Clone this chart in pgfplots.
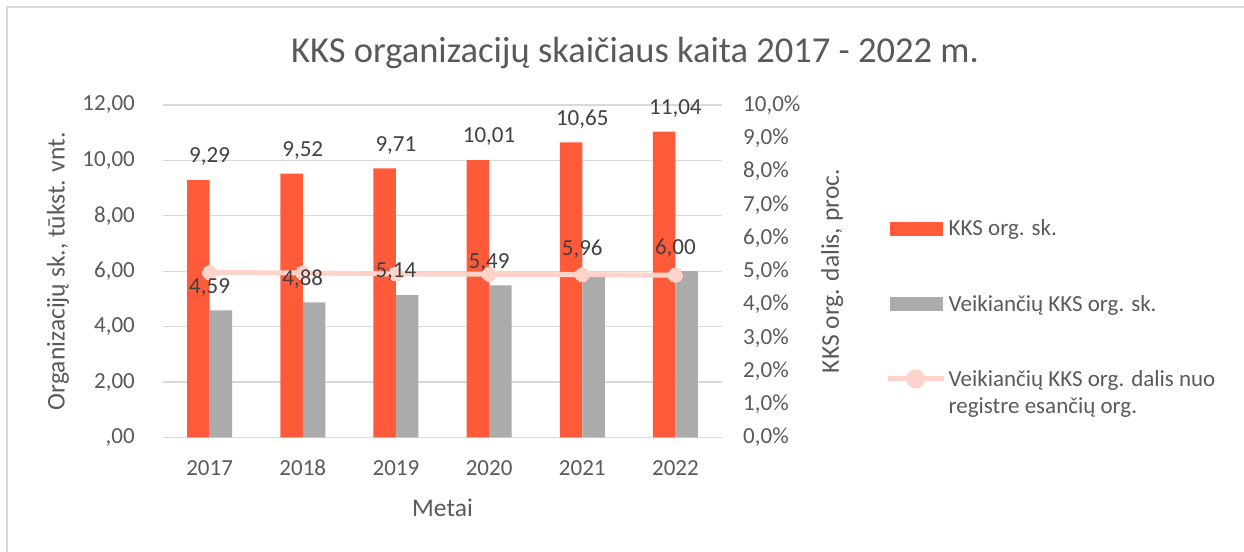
\documentclass[border=0pt]{standalone}
\usepackage{pgfplots}
\usepackage{pgfplotstable}
\pgfplotsset{compat=1.18}
\usepackage{fontspec}
\setmainfont{Carlito}
\definecolor{korg}{HTML}{FF5B3B}
\definecolor{kgray}{HTML}{ABABAB}
\definecolor{kline}{HTML}{FFD3CA}
\definecolor{ktext}{HTML}{595959}
\definecolor{klab}{HTML}{404040}
\definecolor{kgrid}{HTML}{D9D9D9}
\pgfkeys{/pgf/number format/assume math mode=true}

\pgfplotstableread{
x org veik
0 9.29 4.59
1 9.52 4.88
2 9.71 5.14
3 10.01 5.49
4 10.65 5.96
5 11.04 6.00
}\barsdata
\pgfplotstableread{
x share
0 4.96
1 4.95
2 4.92
3 4.91
4 4.90
5 4.88
}\linedata

\newcommand{\tickfont}{\fontsize{23bp}{27bp}\selectfont}
\newcommand{\labfont}{\fontsize{25.5bp}{30bp}\selectfont}

\pgfplotsset{
  kbase/.style={
    at={(163bp,114.5bp)}, anchor=south west,
    scale only axis, width=559bp, height=332.5bp,
    xmin=-0.5, xmax=5.5,
  },
}

\begin{document}
\begin{tikzpicture}
\useasboundingbox (0,0) rectangle (1244bp,552bp);
\draw[kgrid, line width=1.5bp] (7bp,0) -- (7bp,545bp) -- (1244bp,545bp);
\node[text=ktext, font=\fontsize{36.5bp}{42bp}\selectfont] at (635bp,499bp) {KKS organizacijų skaičiaus kaita 2017 - 2022 m.};

% bars
\begin{axis}[
  kbase, ymin=0, ymax=12,
  xtick={0,1,2,3,4,5}, xticklabels={2017,2018,2019,2020,2021,2022},
  ytick={0,2,4,6,8,10,12},
  yticklabels={{,00},{2,00},{4,00},{6,00},{8,00},{10,00},{12,00}},
  ymajorgrids, grid style={kgrid, line width=1.2bp},
  axis x line*=bottom, axis y line*=left,
  x axis line style={kgrid, line width=1.2bp},
  y axis line style={draw=none},
  major tick length=0pt,
  tick label style={text=ktext, font=\tickfont, inner sep=0pt},
  yticklabel style={anchor=east, xshift=-28bp},
  xticklabel style={anchor=base, yshift=-38bp},
  bar width=22.5bp,
  xlabel={Metai}, ylabel={Organizacijų sk., tūkst. vnt.},
  label style={text=ktext, font=\labfont},
  xlabel style={at={(axis description cs:0.5,-0.212)}, anchor=center},
  ylabel style={at={(axis description cs:-0.188,0.5)}, anchor=center},
]
\addplot[ybar, fill=korg, draw=none, bar shift=-11.25bp] table[x=x,y=org]{\barsdata};
\addplot[ybar, fill=kgray, draw=none, bar shift=11.25bp] table[x=x,y=veik]{\barsdata};
\end{axis}

% line on the secondary axis
\begin{axis}[
  kbase, ymin=0, ymax=10,
  axis x line=none, axis y line*=right,
  y axis line style={draw=none},
  major tick length=0pt,
  ytick={0,1,2,3,4,5,6,7,8,9,10},
  yticklabels={{0,0\%},{1,0\%},{2,0\%},{3,0\%},{4,0\%},{5,0\%},{6,0\%},{7,0\%},{8,0\%},{9,0\%},{10,0\%}},
  tick label style={text=ktext, font=\tickfont, inner sep=0pt},
  yticklabel style={anchor=west, xshift=21bp},
  ylabel={KKS org. dalis, proc.},
  label style={text=ktext, font=\labfont},
  ylabel style={at={(axis description cs:1.197,0.5)}, anchor=center, rotate=0},
  legend style={at={(axis description cs:1.2916,0.663)}, anchor=north west,
    draw=none, fill=none, font=\tickfont, text=ktext, row sep=53bp,
    cells={anchor=west, align=left}, inner sep=0pt,
    nodes={inner sep=2.5bp}},
]
\addlegendimage{legend image code/.code={\fill[korg] (0bp,-6.5bp) rectangle (52bp,6.5bp);}}
\addlegendimage{legend image code/.code={\fill[kgray] (0bp,-6.5bp) rectangle (52bp,6.5bp);}}
\addplot[kline, line width=5bp, mark=*, mark size=7bp, mark options={fill=kline, draw=kline, line width=0pt},
  legend image code/.code={\draw[kline, line width=5bp] (-2bp,14bp) -- (54bp,14bp); \fill[kline] (26bp,14bp) circle (7bp);}]
  table[x=x,y=share]{\linedata};
\legend{KKS org. sk., Veikiančių KKS org. sk., {Veikiančių KKS org. dalis nuo\\registre esančių org.}}
\end{axis}

% data labels on top of everything
\begin{axis}[
  kbase, ymin=0, ymax=12, hide axis,
  bar width=22.5bp,
  nodes near coords style={text=klab, font=\tickfont, inner sep=0pt, yshift=14bp},
]
\addplot[ybar, fill=none, draw=none, bar shift=-11.25bp,
  nodes near coords={\pgfmathprintnumber[fixed,fixed zerofill,precision=2,use comma]{\pgfplotspointmeta}}]
  table[x=x,y=org]{\barsdata};
\addplot[ybar, fill=none, draw=none, bar shift=11.25bp,
  nodes near coords={\pgfmathprintnumber[fixed,fixed zerofill,precision=2,use comma]{\pgfplotspointmeta}}]
  table[x=x,y=veik]{\barsdata};
\end{axis}
\end{tikzpicture}
\end{document}
